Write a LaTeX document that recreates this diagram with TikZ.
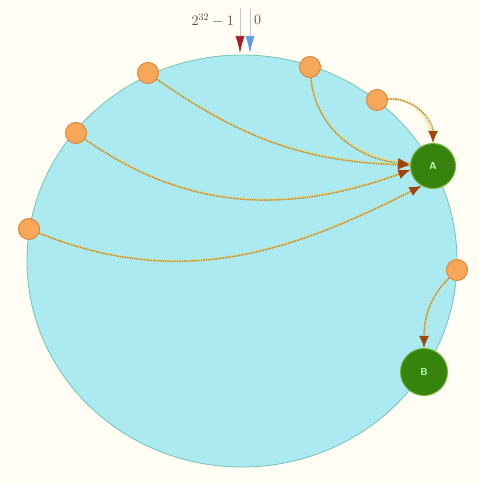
\documentclass[tikz,border=0pt]{standalone}
\usetikzlibrary{arrows.meta}

\definecolor{bg}{RGB}{255,253,244}
\definecolor{ringfill}{RGB}{170,234,240}
\definecolor{ringline}{RGB}{118,196,178}
\definecolor{itemfill}{RGB}{246,168,88}
\definecolor{itemline}{RGB}{224,134,58}
\definecolor{hostfill}{RGB}{56,130,14}
\definecolor{hostline}{RGB}{112,184,58}
\definecolor{tipbrown}{RGB}{158,70,12}
\definecolor{dotline}{RGB}{190,134,46}
\definecolor{glow}{RGB}{236,214,110}
\definecolor{tipred}{RGB}{168,28,40}
\definecolor{tipblue}{RGB}{92,156,226}

\begin{document}
\begin{tikzpicture}[x=1pt, y=1pt,
    item/.style = {draw=itemline, fill=itemfill, circle, minimum size=21pt, inner sep=0pt, line width=1pt},
    host/.style = {draw=hostline, fill=hostfill, circle, minimum size=45pt, inner sep=0pt, line width=1pt, text=green!25!white, font=\sffamily\bfseries},
    link/.style = {draw=dotline, densely dotted, line width=1.4pt, -{Latex[length=12pt,width=10pt,color=tipbrown]},
                   preaction={draw=glow, solid, line width=2.2pt, opacity=.6, -}},
    pointer/.style = {draw=gray!45, line width=0.7pt}]
        \fill[bg] (0,0) rectangle (479,483);
        \draw[ringline, fill=ringfill, line width=0.8pt] (242,222) ellipse [x radius=215, y radius=206];

        % zero point of the ring
        \coordinate (hitop) at (240,475);
        \coordinate (hiend) at (240,430);
        \coordinate (lotop) at (250,475);
        \coordinate (loend) at (250,430);
        \draw[pointer, -{Latex[length=17pt,width=9pt,color=tipred]}] (hitop) -- (hiend);
        \draw[pointer, -{Latex[length=17pt,width=9pt,color=tipblue]}] (lotop) -- (loend);
        \node[anchor=east, inner sep=0pt, text=black!70, font=\Large] (maxlab) at (234,463) {$2^{32}-1$};
        \node[anchor=west, inner sep=0pt, text=black!70, font=\Large] (zerolab) at (254,463) {$0$};

        \node[item] (1) at (148,410) {};
        \node[item] (2) at (310,416) {};
        \node[item] (3) at (377,383) {};
        \node[item] (4) at (76,350) {};
        \node[item] (5) at (29,254) {};
        \node[item] (6) at (457,213) {};
        \node[host] (A) at (433,317) {A};
        \node[host, minimum size=47pt] (B) at (424,111) {B};

        \draw[link] (1) to [out=-35,in=178] (A);
        \draw[link] (2) to [out=-85,in=175] (A);
        \draw[link] (3) to [out=5,in=90] (A);
        \draw[link] (4) to [out=-35,in=200] (A.190);
        \draw[link] (5) to [out=-22,in=207] (A.240);
        \draw[link] (6) to [out=225,in=90] (B);
    \end{tikzpicture}
\end{document}
